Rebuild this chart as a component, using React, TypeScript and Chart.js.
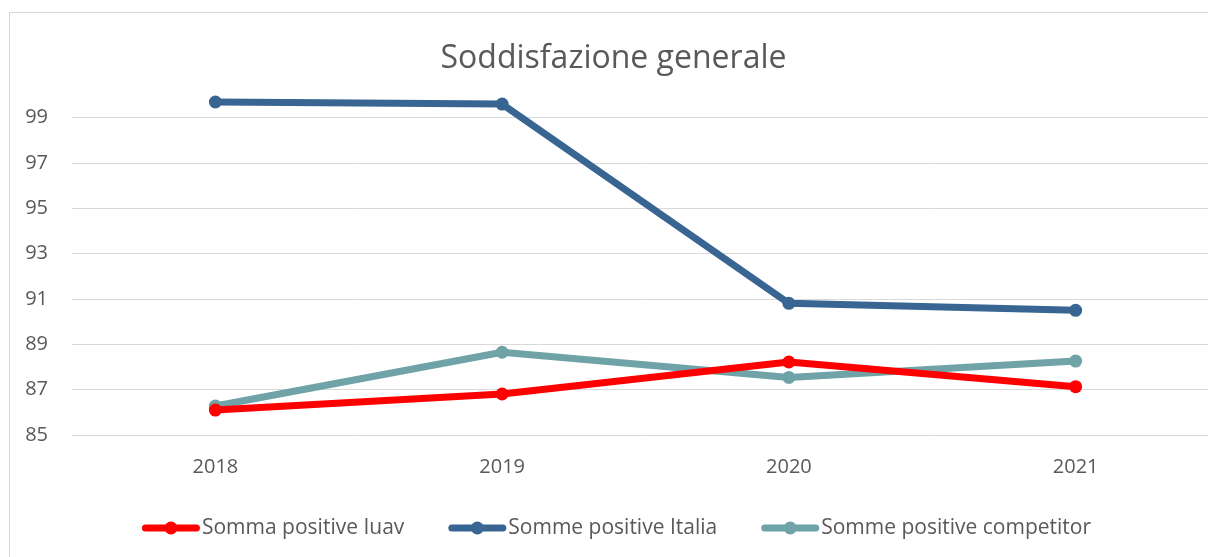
import React, { useEffect, useRef } from 'react';
import { Chart, registerables } from 'chart.js';

Chart.register(...registerables);

const categories = ['2018', '2019', '2020', '2021'];
const iuavValues = [86.1, 86.81, 88.22, 87.13];
const italiaValues = [99.69, 99.6, 90.81, 90.5];
const competitorValues = [86.28, 88.65, 87.54, 88.26];
const seriesLabels = ['Somma positive Iuav', 'Somme positive Italia', 'Somme positive competitor'];
const seriesColors = ['#ff0000', '#386591', '#6fa3a7'];
const yTickValues = [85, 87, 89, 91, 93, 95, 97, 99];
const yMin = 85;
const yMax = 100;
const titleText = 'Soddisfazione generale';

const FONT = "'Open Sans', sans-serif";
const TEXT_COLOR = '#595959';

const titleAndLegendPlugin = {
  id: 'titleAndLegend',
  afterDraw(chart: any) {
    const ctx = chart.ctx as CanvasRenderingContext2D;
    ctx.save();
    // title
    ctx.font = `32px ${FONT}`;
    ctx.fillStyle = TEXT_COLOR;
    ctx.textAlign = 'center';
    ctx.textBaseline = 'alphabetic';
    ctx.fillText(titleText, chart.width / 2 - 3, 55);

    // legend
    const sets = chart.data.datasets;
    const sampleW = 58;
    const textGap = 2;
    const itemGap = 44;
    ctx.font = `21px ${FONT}`;
    const widths = sets.map((d: any) => ctx.measureText(d.label).width);
    const total =
      widths.reduce((a: number, w: number) => a + sampleW + textGap + w, 0) + itemGap * (sets.length - 1);
    let x = chart.width / 2 - total / 2;
    const y = chart.chartArea.bottom + 93;
    sets.forEach((d: any, i: number) => {
      const color = d.borderColor;
      ctx.strokeStyle = color;
      ctx.fillStyle = color;
      ctx.lineWidth = 7;
      ctx.lineCap = 'round';
      ctx.beginPath();
      ctx.moveTo(x + 3.5, y);
      ctx.lineTo(x + sampleW - 3.5, y);
      ctx.stroke();
      ctx.beginPath();
      ctx.arc(x + sampleW / 2, y, 6.5, 0, Math.PI * 2);
      ctx.fill();
      ctx.fillStyle = TEXT_COLOR;
      ctx.textAlign = 'left';
      ctx.textBaseline = 'middle';
      ctx.fillText(d.label, x + sampleW + textGap, y);
      x += sampleW + textGap + widths[i] + itemGap;
    });
    ctx.restore();
  },
};

export default function App() {
  const canvasRef = useRef<HTMLCanvasElement | null>(null);

  useEffect(() => {
    if (!canvasRef.current) return;
    const values = [iuavValues, italiaValues, competitorValues];
    const chart = new Chart(canvasRef.current, {
      type: 'line',
      data: {
        labels: categories,
        datasets: values.map((v, i) => ({
          label: seriesLabels[i],
          data: v,
          borderColor: seriesColors[i],
          backgroundColor: seriesColors[i],
          borderWidth: 7,
          pointRadius: 6.5,
          pointHoverRadius: 6.5,
          pointBorderWidth: 0,
          tension: 0,
          borderJoinStyle: 'round' as const,
          borderCapStyle: 'round' as const,
          clip: false as any,
        })),
      },
      plugins: [titleAndLegendPlugin],
      options: {
        animation: false,
        responsive: true,
        maintainAspectRatio: false,
        layout: { autoPadding: false, padding: { left: 15, right: 4, top: 82, bottom: 74 } },
        plugins: {
          title: { display: false },
          legend: { display: false },
          tooltip: { enabled: false },
        },
        scales: {
          x: {
            offset: true,
            grid: { display: false, drawTicks: false },
            border: { display: false },
            ticks: { color: TEXT_COLOR, font: { family: FONT, size: 20 }, padding: 20 },
          },
          y: {
            min: yMin,
            max: yMax,
            afterFit: (scale: any) => {
              scale.width = 47;
            },
            afterBuildTicks: (scale: any) => {
              scale.ticks = yTickValues.map((v) => ({ value: v }));
            },
            grid: {
              color: '#d9d9d9',
              lineWidth: 1,
              drawTicks: false,
            },
            border: { display: false },
            ticks: {
              color: TEXT_COLOR,
              font: { family: FONT, size: 20 },
              padding: 24,
              callback: (v: any) => String(v),
            },
          },
        },
      },
    });
    return () => chart.destroy();
  }, []);

  return (
    <div style={{ position: 'fixed', left: 0, top: 0, width: 1208, height: 557, overflow: 'hidden', background: '#fff' }}>
      <div
        style={{
          position: 'absolute',
          left: 9,
          top: 12,
          width: 1213,
          height: 560,
          border: '1px solid #d9d9d9',
          background: '#fff',
        }}
      >
        <canvas ref={canvasRef} />
      </div>
    </div>
  );
}
